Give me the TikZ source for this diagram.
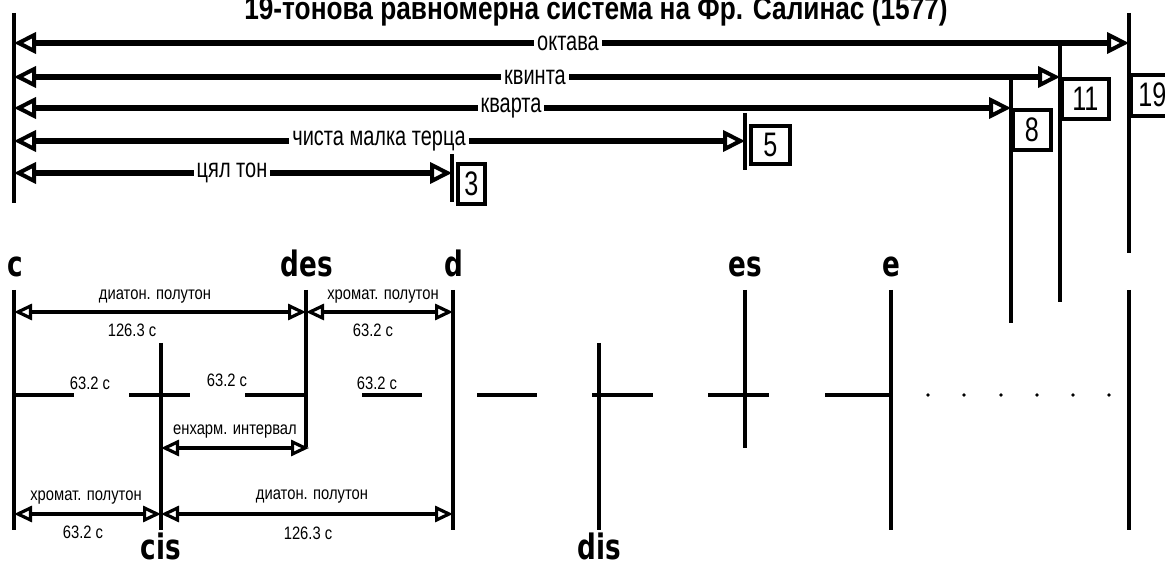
\documentclass[tikz,border=0pt]{standalone}
\usepackage{fontspec}
\setmainfont{Liberation Sans}
\newfontfamily\narrowfont[FakeStretch=0.82]{Liberation Sans}
\newfontfamily\slimfont[FakeStretch=0.74]{Liberation Sans}
\newfontfamily\notefont[FakeStretch=0.75]{DejaVu Sans}
\usetikzlibrary{arrows.meta}

\begin{document}
\begin{tikzpicture}[x=0.5pt, y=-0.5pt,
    intarrow/.style={{Triangle[open,length=11pt,width=10.5pt,line width=2pt]}-{Triangle[open,length=11pt,width=10.5pt,line width=2pt]}, line width=2.8pt},
    semiarrow/.style={{Triangle[open,length=9pt,width=8pt,line width=1.6pt]}-{Triangle[open,length=9pt,width=8pt,line width=1.6pt]}, line width=2.2pt},
    stroke/.style={line width=1.7pt},
    seg/.style={line width=2.2pt},
    lbl/.style={fill=white, inner sep=1.5pt, font=\slimfont\fontsize{13.5}{14}\selectfont},
    small/.style={inner sep=0pt, font=\narrowfont\fontsize{9}{10}\selectfont},
    num/.style={draw, line width=1.8pt, anchor=north west, inner sep=0pt, font=\slimfont\fontsize{17}{18}\selectfont},
    note/.style={anchor=base, inner sep=0pt, font=\notefont\bfseries\fontsize{17.5}{18}\selectfont}]
    \useasboundingbox (0,0) rectangle (1165,565);
    % Title
    \node[anchor=base, inner sep=0pt, font=\narrowfont\bfseries\fontsize{16}{17}\selectfont] (title) at (596,20) {19-тонова равномерна система на Фр. Салинас (1577)};
    % Coordinate
    \coordinate (l1) at (14,43);  \coordinate (r1) at (1129,43);
    \coordinate (l2) at (14,77);  \coordinate (r2) at (1060,77);
    \coordinate (l3) at (14,108); \coordinate (r3) at (1011,108);
    \coordinate (l4) at (14,141); \coordinate (r4) at (745,141);
    \coordinate (l5) at (14,173); \coordinate (r5) at (452,173);
    % Linee
    \draw[stroke] (14,13) -- (14,203);
    \draw[stroke] (452,147) -- (452,202);
    \draw[stroke] (745,113) -- (745,170);
    \draw[stroke] (1011,80) -- (1011,323);
    \draw[stroke] (1060,45) -- (1060,302);
    \draw[stroke] (1129,13) -- (1129,253);
    \draw[stroke] (1129,290) -- (1129,530);
    \draw[intarrow] (l1) -- (r1);
    \draw[intarrow] (l2) -- (r2);
    \draw[intarrow] (l3) -- (r3);
    \draw[intarrow] (l4) -- (r4);
    \draw[intarrow] (l5) -- (r5);
    \node[lbl] (oktava) at (568,43) {октава};
    \node[lbl] (kvinta) at (535,77) {квинта};
    \node[lbl] (kvarta) at (511,108) {кварта};
    \node[lbl] (terca) at (379,141) {чиста малка терца};
    \node[lbl] (ton) at (232,173) {цял тон};
    % Steps
    \node[num, minimum width=13.5pt, minimum height=20pt] (n3) at (456,162) {3};
    \node[num, minimum width=19.5pt, minimum height=19pt] (n5) at (749,124) {5};
    \node[num, minimum width=19pt, minimum height=20pt] (n8) at (1011,108) {8};
    \node[num, minimum width=23.5pt, minimum height=20pt] (n11) at (1060,77) {11};
    \node[num, minimum width=21.5pt, minimum height=20.5pt] (n19) at (1129,73) {19};
    % Notes
    \node[note] (c) at (15,277) {c};
    \node[note] (des) at (307,277) {des};
    \node[note] (d) at (454,277) {d};
    \node[note] (es) at (745,277) {es};
    \node[note] (e) at (891,277) {e};
    \node[note] (cis) at (161,559) {cis};
    \node[note] (dis) at (599,559) {dis};
    \draw[stroke] (14,290) -- (14,530);
    \draw[stroke] (161,343) -- (161,530);
    \draw[stroke] (306,290) -- (306,447);
    \draw[stroke] (453,290) -- (453,530);
    \draw[stroke] (599,343) -- (599,530);
    \draw[stroke] (745,290) -- (745,448);
    \draw[stroke] (891,290) -- (891,530);
    % Scale
    \draw[seg] (14,395) -- (74,395);
    \draw[seg] (129,395) -- (190,395);
    \draw[seg] (245,395) -- (306,395);
    \draw[seg] (362,395) -- (422,395);
    \draw[seg] (477,395) -- (537,395);
    \draw[seg] (592,395) -- (653,395);
    \draw[seg] (708,395) -- (769,395);
    \draw[seg] (825,395) -- (891,395);
    \fill (928,395) circle (1.8) (964,395) circle (1.8) (1001,395) circle (1.8)
          (1037,395) circle (1.8) (1073,395) circle (1.8) (1109,395) circle (1.8);
    \node[small] (s1) at (90,383) {63.2 c};
    \node[small] (s2) at (227,380) {63.2 c};
    \node[small] (s3) at (377,383) {63.2 c};
    % Semitones
    \coordinate (c1) at (14,312);  \coordinate (des1) at (306,312); \coordinate (d1) at (453,312);
    \coordinate (cis2) at (161,448); \coordinate (des2) at (309,448);
    \coordinate (c3) at (14,514);  \coordinate (cis3) at (161,514); \coordinate (d3) at (453,514);
    \draw[semiarrow] (c1) -- (des1);
    \draw[semiarrow] (des1) -- (d1);
    \draw[semiarrow] (cis2) -- (des2);
    \draw[semiarrow] (c3) -- (cis3);
    \draw[semiarrow] (cis3) -- (d3);
    % Writing space
    \node[small] (dia1) at (155,297) {диатон. полутон};
    \node[small] (dia1c) at (132,330) {126.3 c};
    \node[small] (hro1) at (383,297) {хромат. полутон};
    \node[small] (hro1c) at (373,330) {63.2 c};
    \node[small] (enh) at (235,432) {енхарм. интервал};
    \node[small] (hro2) at (86,498) {хромат. полутон};
    \node[small] (hro2c) at (83,532) {63.2 c};
    \node[small] (dia2) at (312,497) {диатон. полутон};
    \node[small] (dia2c) at (308,533) {126.3 c};
\end{tikzpicture}
\end{document}
